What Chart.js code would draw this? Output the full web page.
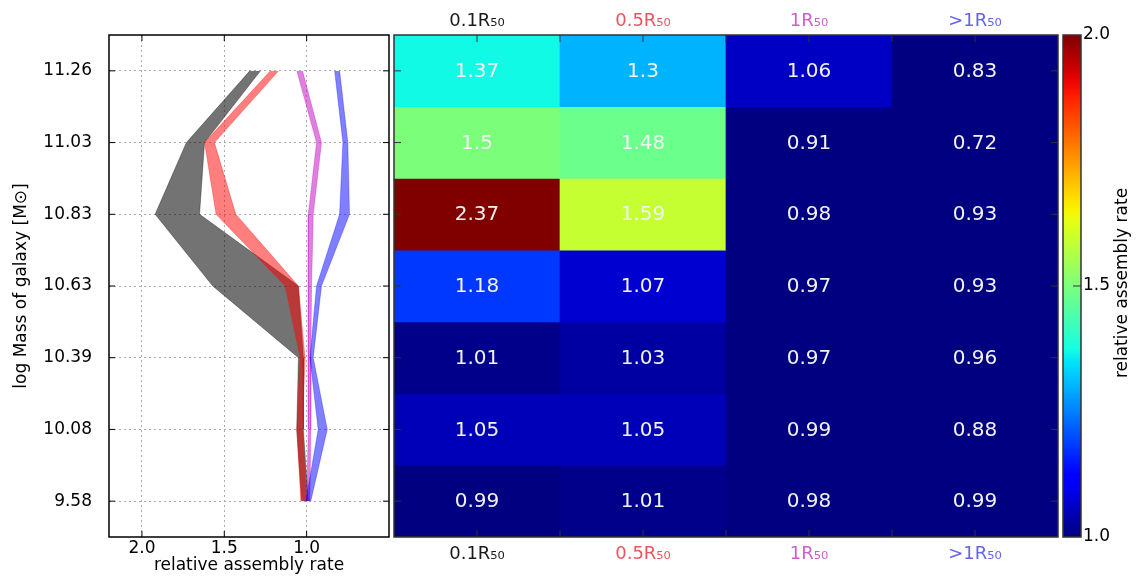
<!DOCTYPE html>
<html><head><meta charset="utf-8">
<script src="https://cdn.jsdelivr.net/npm/chart.js@4.4.1/dist/chart.umd.min.js"></script>
<style>
html,body{margin:0;padding:0;background:#fff;width:1140px;height:579px;overflow:hidden}
canvas{position:absolute;top:0}
</style></head><body>
<canvas id="lines" width="392" height="579" style="left:0"></canvas>
<canvas id="heat" width="668" height="579" style="left:392px"></canvas>
<canvas id="cbar" width="80" height="579" style="left:1060px"></canvas>
<script>
// ---- data ----
const massLabels = ['11.26', '11.03', '10.83', '10.63', '10.39', '10.08', '9.58'];
const colLabels = ['0.1R₅₀', '0.5R₅₀', '1R₅₀', '>1R₅₀'];
const xTickValues = [2.0, 1.5, 1.0];
const cbarTicks = [1.0, 1.5, 2.0];

// heatmap values, top row (11.26) to bottom row (9.58)
const rate01 = [1.37, 1.5, 2.37, 1.18, 1.01, 1.05, 0.99];
const rate05 = [1.3, 1.48, 1.59, 1.07, 1.03, 1.05, 1.01];
const rate1 = [1.06, 0.91, 0.98, 0.97, 0.97, 0.99, 0.98];
const rateGt1 = [0.83, 0.72, 0.93, 0.93, 0.96, 0.88, 0.99];

// band edges of the left panel (lower / upper relative assembly rate)
const grayLo = [1.28, 1.62, 1.65, 1.05, 1.02, 1.02, 0.99];
const grayHi = [1.345, 1.73, 1.92, 1.57, 1.05, 1.06, 1.03];
const redLo = [1.17, 1.56, 1.43, 1.05, 1.01, 1.025, 1.0];
const redHi = [1.22, 1.62, 1.55, 1.13, 1.04, 1.06, 1.035];
const magLo = [1.025, 0.91, 0.96, 0.97, 0.975, 0.975, 0.98];
const magHi = [1.06, 0.94, 0.99, 0.99, 0.99, 0.99, 1.0];
const blueLo = [0.80, 0.75, 0.74, 0.91, 0.96, 0.875, 0.975];
const blueHi = [0.83, 0.78, 0.80, 0.94, 0.98, 0.93, 1.005];

// ---- styles ----
const FONT = "'DejaVu Sans', sans-serif";
Chart.defaults.font.family = FONT;
Chart.defaults.color = '#000';
Chart.defaults.animation = false;
const colColors = ['#1a1a1a', 'rgb(235,85,95)', 'rgb(205,95,205)', 'rgb(100,100,235)'];

function interp(seg, t) {
  for (let i = 1; i < seg.length; i++) {
    if (t <= seg[i][0]) {
      const [x0, y0] = seg[i - 1], [x1, y1] = seg[i];
      return y0 + (y1 - y0) * (t - x0) / (x1 - x0);
    }
  }
  return seg[seg.length - 1][1];
}
const JR = [[0, 0], [0.35, 0], [0.66, 1], [0.89, 1], [1, 0.5]];
const JG = [[0, 0], [0.125, 0], [0.375, 1], [0.64, 1], [0.91, 0], [1, 0]];
const JB = [[0, 0.5], [0.11, 1], [0.34, 1], [0.65, 0], [1, 0]];
function jet(v) {
  const t = Math.min(1, Math.max(0, v - 1));
  const f = s => Math.round(255 * interp(s, t));
  return `rgb(${f(JR)},${f(JG)},${f(JB)})`;
}

// ---- plugins ----
const frame = {
  id: 'frame',
  afterDatasetsDraw(chart, args, o) {
    const {ctx, chartArea: a} = chart;
    ctx.save();
    ctx.strokeStyle = o.color || '#000';
    ctx.lineWidth = o.width || 1.5;
    ctx.strokeRect(a.left, a.top, a.right - a.left, a.bottom - a.top);
    ctx.restore();
  }
};
const innerTicks = {
  id: 'innerTicks',
  afterDatasetsDraw(chart, args, o) {
    if (!o || !o.len) return;
    const {ctx, chartArea: a} = chart;
    ctx.save();
    ctx.strokeStyle = o.color || '#000';
    ctx.lineWidth = 1;
    ctx.beginPath();
    (o.xValues || []).forEach(v => {
      const px = chart.scales[o.xScale || 'x'].getPixelForValue(v);
      if (o.top) { ctx.moveTo(px, a.top); ctx.lineTo(px, a.top + o.len); }
      if (o.bottom) { ctx.moveTo(px, a.bottom); ctx.lineTo(px, a.bottom - o.len); }
    });
    (o.yValues || []).forEach(v => {
      const py = chart.scales.y.getPixelForValue(v);
      if (o.left) { ctx.moveTo(a.left, py); ctx.lineTo(a.left + o.len, py); }
      if (o.right) { ctx.moveTo(a.right, py); ctx.lineTo(a.right - o.len, py); }
    });
    ctx.stroke();
    ctx.restore();
  }
};

// ---- left panel: bands ----
function band(lo, hi, color, order) {
  const common = {backgroundColor: color, borderColor: color, borderWidth: 0.6, pointRadius: 0, tension: 0, order};
  return [
    Object.assign({data: lo.map((v, i) => ({x: v, y: i})), fill: '+1'}, common),
    Object.assign({data: hi.map((v, i) => ({x: v, y: i})), fill: false}, common)
  ];
}
new Chart(document.getElementById('lines'), {
  type: 'line',
  data: {
    datasets: [
      ...band(grayLo, grayHi, 'rgba(0,0,0,0.55)', 4),
      ...band(redLo, redHi, 'rgba(255,0,0,0.5)', 3),
      ...band(magLo, magHi, 'rgba(191,0,191,0.5)', 2),
      ...band(blueLo, blueHi, 'rgba(0,0,255,0.5)', 1)
    ]
  },
  plugins: [frame, innerTicks],
  options: {
    responsive: false,
    indexAxis: 'y',
    layout: {padding: {left: 0, right: 3, top: 35, bottom: 0}},
    plugins: {
      legend: {display: false}, tooltip: {enabled: false},
      frame: {color: '#000', width: 1.5},
      innerTicks: {len: 6, color: '#000', xValues: xTickValues, yValues: [0, 1, 2, 3, 4, 5, 6], top: true, bottom: true, left: true, right: true}
    },
    scales: {
      x: {
        type: 'linear', reverse: true, min: 0.5, max: 2.2,
        afterBuildTicks: s => { s.ticks = xTickValues.map(v => ({value: v})); },
        ticks: {callback: v => Number(v).toFixed(1), font: {size: 17}, padding: 1, maxRotation: 0},
        grid: {color: '#aaaaaa', lineWidth: 1, drawTicks: false},
        border: {display: false, dash: [2, 3]},
        title: {display: true, text: 'relative assembly rate', font: {size: 17}, padding: {top: 0, bottom: 3}},
        afterFit: s => { s.height = 42; }
      },
      y: {
        type: 'linear', reverse: true, min: -0.5, max: 6.5,
        afterBuildTicks: s => { s.ticks = massLabels.map((m, i) => ({value: i})); },
        ticks: {callback: v => massLabels[Math.round(v)], font: {size: 17}, padding: 17},
        grid: {color: '#aaaaaa', lineWidth: 1, drawTicks: false},
        border: {display: false, dash: [2, 3]},
        title: {display: true, text: 'log Mass of galaxy [M⊙]', font: {size: 17}, padding: {top: 11, bottom: 0}},
        afterFit: s => { s.width = 109; }
      }
    }
  }
});

// ---- heatmap ----
const heatCols = [rate01, rate05, rate1, rateGt1];
const cellText = {
  id: 'cellText',
  afterDatasetsDraw(chart) {
    const ctx = chart.ctx;
    ctx.save();
    ctx.fillStyle = '#f2f2f2';
    ctx.font = "20px " + FONT;
    ctx.textAlign = 'center';
    ctx.textBaseline = 'middle';
    chart.data.datasets.forEach((ds, r) => {
      chart.getDatasetMeta(r).data.forEach((el, c) => {
        const p = el.getProps(['x', 'y', 'base'], true);
        ctx.fillText(String(heatCols[c][r]), p.x, (p.y + p.base) / 2 + 1);
      });
    });
    ctx.restore();
  }
};
new Chart(document.getElementById('heat'), {
  type: 'bar',
  data: {
    labels: colLabels,
    datasets: massLabels.map((m, r) => ({
      label: m,
      data: heatCols.map(() => [r - 0.5, r + 0.5]),
      backgroundColor: heatCols.map(col => jet(col[r])),
      borderWidth: 0,
      barPercentage: 1, categoryPercentage: 1, grouped: false
    }))
  },
  plugins: [cellText, frame, innerTicks],
  options: {
    responsive: false,
    layout: {padding: {left: 2, right: 2, top: 0, bottom: 0}},
    plugins: {
      legend: {display: false}, tooltip: {enabled: false},
      frame: {color: '#333', width: 1.5},
      innerTicks: {len: 7, color: '#333', xValues: [0, 0.5, 1, 1.5, 2, 2.5, 3], yValues: [0, 1, 2, 3, 4, 5, 6], top: true, bottom: true, left: true, right: true}
    },
    scales: {
      x: {
        type: 'category', position: 'bottom', offset: true,
        grid: {display: false, drawTicks: false}, border: {display: false},
        ticks: {color: c => colColors[c.index], font: {size: 18}, padding: 7, maxRotation: 0},
        afterFit: s => { s.height = 42; }
      },
      x2: {
        type: 'category', position: 'top', offset: true, labels: colLabels,
        grid: {display: false, drawTicks: false}, border: {display: false},
        ticks: {color: c => colColors[c.index], font: {size: 18}, padding: 3, maxRotation: 0},
        afterFit: s => { s.height = 35; }
      },
      y: {type: 'linear', min: -0.5, max: 6.5, reverse: true, display: false}
    }
  }
});

// ---- colorbar ----
const cbarLabel = {
  id: 'cbarLabel',
  afterDraw(chart) {
    const ctx = chart.ctx, a = chart.chartArea;
    ctx.save();
    ctx.translate(63, (a.top + a.bottom) / 2 - 3);
    ctx.rotate(-Math.PI / 2);
    ctx.fillStyle = '#000';
    ctx.font = "17px " + FONT;
    ctx.textAlign = 'center';
    ctx.textBaseline = 'middle';
    ctx.fillText('relative assembly rate', 0, 0);
    ctx.restore();
  }
};
new Chart(document.getElementById('cbar'), {
  type: 'bar',
  data: {
    labels: [''],
    datasets: [{
      data: [[cbarTicks[0], cbarTicks[cbarTicks.length - 1]]],
      borderWidth: 0, barPercentage: 1, categoryPercentage: 1,
      backgroundColor: c => {
        const ch = c.chart;
        if (!ch.chartArea) return 'rgba(0,0,0,0)';
        const ys = ch.scales.y;
        const g = ch.ctx.createLinearGradient(0, ys.getPixelForValue(1), 0, ys.getPixelForValue(2));
        for (let i = 0; i <= 40; i++) g.addColorStop(i / 40, jet(1 + i / 40));
        return g;
      }
    }]
  },
  plugins: [frame, innerTicks, cbarLabel],
  options: {
    responsive: false,
    layout: {padding: {left: 3, right: 0, top: 35, bottom: 42}},
    plugins: {
      legend: {display: false}, tooltip: {enabled: false},
      frame: {color: '#333', width: 1.5},
      innerTicks: {len: 8, color: '#333', yValues: [1.5], right: true}
    },
    scales: {
      x: {display: false},
      y: {
        position: 'right', min: 1, max: 2,
        afterBuildTicks: s => { s.ticks = cbarTicks.map(v => ({value: v})); },
        ticks: {callback: v => Number(v).toFixed(1), font: {size: 17}, padding: 2},
        grid: {display: false, drawTicks: false}, border: {display: false},
        afterFit: s => { s.width = 59; }
      }
    }
  }
});
</script>
</body></html>
